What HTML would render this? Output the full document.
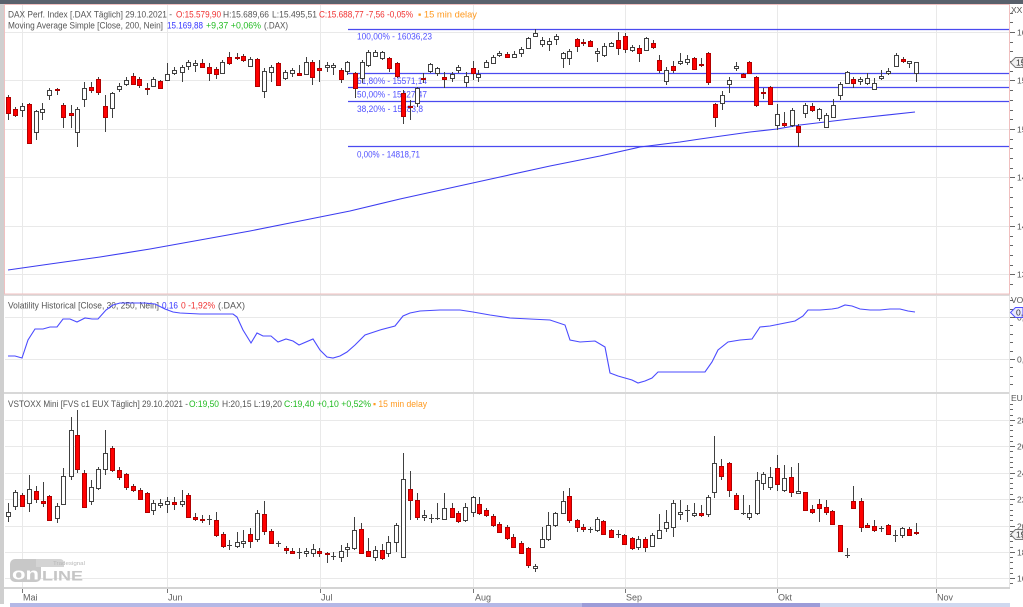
<!DOCTYPE html>
<html><head><meta charset="utf-8"><style>
html,body{margin:0;padding:0;background:#fff;}
body{width:1023px;height:607px;overflow:hidden;}
svg{display:block;font-family:"Liberation Sans","DejaVu Sans",sans-serif;}
</style></head><body>
<svg width="1023" height="607" viewBox="0 0 1023 607" xmlns="http://www.w3.org/2000/svg">
<rect x="0" y="0" width="1023" height="607" fill="#fff"/>
<!-- top bar -->
<rect x="0" y="0" width="1023" height="4" fill="#59616c"/>
<!-- left strip -->
<rect x="0" y="4" width="4" height="600" fill="#cfcfcf"/>
<!-- grid -->
<path d="M5 32.5H1009M5 80.5H1009M5 129.5H1009M5 177.5H1009M5 226.5H1009M5 274.5H1009M5 317.5H1009M5 359.5H1009M5 420.5H1009M5 446.5H1009M5 473.5H1009M5 499.5H1009M5 526.5H1009M5 552.5H1009M5 578.5H1009M22.5 5V588M167.5 5V588M320.5 5V588M473.5 5V588M625.5 5V588M777.5 5V588M936.5 5V588" stroke="#e9e9e9" stroke-width="1" fill="none"/>
<!-- panel separators -->
<rect x="4" y="294" width="1006" height="2" fill="#dcdcdc"/>
<rect x="4" y="392" width="1006" height="2" fill="#d8d8d8"/>
<path d="M1009.5 296V588" stroke="#e4e4e4"/>
<rect x="4.5" y="4.5" width="1005" height="289.5" fill="none" stroke="#f0c0c0" stroke-width="1"/>

<!-- headers -->
<g font-size="9">
<text x="8" y="17.5" fill="#555" textLength="164" lengthAdjust="spacingAndGlyphs">DAX Perf. Index [.DAX Täglich] 29.10.2021 -</text>
<text x="176" y="17.5" fill="#f03030" textLength="45" lengthAdjust="spacingAndGlyphs">O:15.579,90</text>
<text x="223" y="17.5" fill="#555" textLength="46" lengthAdjust="spacingAndGlyphs">H:15.689,66</text>
<text x="272" y="17.5" fill="#555" textLength="45" lengthAdjust="spacingAndGlyphs">L:15.495,51</text>
<text x="319" y="17.5" fill="#f03030" textLength="94" lengthAdjust="spacingAndGlyphs">C:15.688,77 -7,56 -0,05%</text>
<text x="418" y="17.5" fill="#ff9a20" textLength="59" lengthAdjust="spacingAndGlyphs">▪ 15 min delay</text>
<text x="8" y="28.5" fill="#555" textLength="155" lengthAdjust="spacingAndGlyphs">Moving Average Simple [Close, 200, Nein]</text>
<text x="167" y="28.5" fill="#3434ff" textLength="36" lengthAdjust="spacingAndGlyphs">15.169,88</text>
<text x="206" y="28.5" fill="#22bb22" textLength="55" lengthAdjust="spacingAndGlyphs">+9,37 +0,06%</text>
<text x="264" y="28.5" fill="#555" textLength="24" lengthAdjust="spacingAndGlyphs">(.DAX)</text>

<text x="8" y="308.5" fill="#555" textLength="151" lengthAdjust="spacingAndGlyphs">Volatility Historical [Close, 30, 250, Nein]</text>
<text x="162" y="308.5" fill="#3434ff" textLength="16" lengthAdjust="spacingAndGlyphs">0,16</text>
<text x="181" y="308.5" fill="#f03030" textLength="34" lengthAdjust="spacingAndGlyphs">0 -1,92%</text>
<text x="218" y="308.5" fill="#555" textLength="27" lengthAdjust="spacingAndGlyphs">(.DAX)</text>

<text x="8" y="407" fill="#555" textLength="180" lengthAdjust="spacingAndGlyphs">VSTOXX Mini [FVS c1 EUX Täglich] 29.10.2021 -</text>
<text x="189" y="407" fill="#22bb22" textLength="30" lengthAdjust="spacingAndGlyphs">O:19,50</text>
<text x="222" y="407" fill="#555" textLength="60" lengthAdjust="spacingAndGlyphs">H:20,15 L:19,20</text>
<text x="284" y="407" fill="#22bb22" textLength="87" lengthAdjust="spacingAndGlyphs">C:19,40 +0,10 +0,52%</text>
<text x="373" y="407" fill="#ff9a20" textLength="54" lengthAdjust="spacingAndGlyphs">▪ 15 min delay</text>
</g>

<!-- fib lines -->
<path d="M348 29.5H1009M348 73.5H1009M348 87.5H1009M348 101.5H1009M348 146.5H1009" stroke="#4a4af0" stroke-width="1.2" fill="none"/>
<g font-size="9" fill="#5050ff">
<text x="357" y="39.5" textLength="75" lengthAdjust="spacingAndGlyphs">100,00% - 16036,23</text>
<text x="357" y="84" textLength="70" lengthAdjust="spacingAndGlyphs">61,80% - 15571,14</text>
<text x="357" y="97.5" textLength="70" lengthAdjust="spacingAndGlyphs">50,00% - 15427,47</text>
<text x="357" y="112" textLength="66" lengthAdjust="spacingAndGlyphs">38,20% - 15283,8</text>
<text x="357" y="157.5" textLength="63" lengthAdjust="spacingAndGlyphs">0,00% - 14818,71</text>
</g>

<!-- moving average -->
<polyline points="8,270 50,264 100,257 150,249 200,240 250,231 300,221 350,211 400,199 450,188 500,177 550,166 580,160 600,156 640,147 680,142 700,139 750,132 777,129 800,125 850,119 915,112" fill="none" stroke="#3b3bf0" stroke-width="1.1"/>

<!-- DAX wicks -->
<path stroke="#404040" stroke-width="1" fill="none" d="M8.5 95V120M15.5 107V117M22.5 103V117M29.5 103V144M36.5 110V140M42.5 103V120M49.5 88V100M57.5 88V95M63.5 103V128M71.5 105V128M77.5 107V147M84.5 82V107M91.5 82V93M98.5 77V95M105.5 95V132M112.5 92V118M119.5 83V92M126.5 77V86M133.5 73V85M139.5 77V88M147.5 83V95M153.5 77V87M160.5 80V89M167.5 63V80M174.5 67V75M182.5 65V82M188.5 60V70M195.5 60V72M202.5 59V68M209.5 63V81M216.5 67V79M222.5 60V73M229.5 52V65M237.5 53V60M243.5 54V62M250.5 57V67M257.5 58V87M264.5 68V98M271.5 65V82M278.5 62V86M285.5 70V80M292.5 68V77M299.5 65V75M306.5 57V75M312.5 60V85M319.5 60V82M327.5 62V72M333.5 63V75M341.5 68V83M347.5 61V75M355.5 72V98M362.5 60V83M368.5 50V67M375.5 50V57M382.5 51V60M389.5 57V72M397.5 62V78M403.5 90V124M410.5 100V120M417.5 87V107M423.5 73V83M430.5 63V73M437.5 67V76M444.5 72V88M452.5 72V82M458.5 65V73M466.5 72V87M473.5 61V80M478.5 70V82M486.5 60V68M493.5 55V64M499.5 51V57M507.5 52V58M514.5 51V58M521.5 47V57M528.5 37V49M535.5 29V37M542.5 37V47M549.5 38V51M556.5 34V45M563.5 52V68M569.5 49V65M577.5 38V52M583.5 39V46M590.5 40V47M597.5 48V62M604.5 43V57M611.5 42V47M618.5 32V55M625.5 33V53M632.5 45V52M639.5 45V62M646.5 37V51M653.5 40V49M659.5 55V73M666.5 67V85M673.5 61V73M680.5 53V65M687.5 55V65M694.5 57V70M701.5 58V67M708.5 52V85M715.5 103V127M722.5 91V110M729.5 77V93M736.5 62V71M743.5 73V78M749.5 61V74M756.5 76V107M763.5 88V99M770.5 86V105M777.5 104V130M784.5 112V127M792.5 108V127M798.5 124V147M805.5 103V118M812.5 103V112M819.5 108V121M826.5 113V127M833.5 99V118M840.5 82V100M847.5 71V84M853.5 77V88M860.5 77V85M867.5 73V85M874.5 78V90M881.5 70V80M888.5 68V75M896.5 53V67M903.5 57V63M909.5 61V68M916.5 62V82"/>
<!-- DAX red bodies -->
<path fill="#ff0000" stroke="#b00000" stroke-width="1" d="M6.5 97.5h4v16h-4zM13.5 109.5h4v6h-4zM27.5 104.5h4v39h-4zM55.5 89.5h4v1h-4zM61.5 105.5h4v12h-4zM69.5 113.5h4v2h-4zM89.5 87.5h4v3h-4zM96.5 79.5h4v13h-4zM103.5 106.5h4v11h-4zM131.5 76.5h4v8h-4zM137.5 79.5h4v6h-4zM145.5 88.5h4v1h-4zM158.5 81.5h4v7h-4zM200.5 63.5h4v4h-4zM207.5 67.5h4v6h-4zM214.5 69.5h4v5h-4zM227.5 57.5h4v6h-4zM235.5 57.5h4v1h-4zM241.5 56.5h4v4h-4zM255.5 59.5h4v27h-4zM276.5 63.5h4v22h-4zM297.5 73.5h4v2h-4zM310.5 62.5h4v15h-4zM317.5 68.5h4v2h-4zM339.5 70.5h4v9h-4zM353.5 73.5h4v15h-4zM387.5 58.5h4v10h-4zM395.5 63.5h4v13h-4zM401.5 93.5h4v23h-4zM408.5 106.5h4v1h-4zM421.5 78.5h4v1h-4zM442.5 77.5h4v2h-4zM471.5 68.5h4v5h-4zM505.5 54.5h4v3h-4zM575.5 39.5h4v7h-4zM581.5 42.5h4v1h-4zM588.5 41.5h4v5h-4zM616.5 40.5h4v8h-4zM623.5 36.5h4v13h-4zM637.5 48.5h4v5h-4zM651.5 43.5h4v4h-4zM657.5 60.5h4v10h-4zM671.5 66.5h4v4h-4zM692.5 58.5h4v11h-4zM699.5 64.5h4v1h-4zM706.5 53.5h4v29h-4zM713.5 104.5h4v13h-4zM741.5 74.5h4v3h-4zM747.5 62.5h4v11h-4zM754.5 77.5h4v28h-4zM761.5 92.5h4v1h-4zM768.5 87.5h4v17h-4zM782.5 123.5h4v2h-4zM796.5 126.5h4v6h-4zM810.5 106.5h4v4h-4zM851.5 79.5h4v4h-4zM901.5 59.5h4v2h-4z"/>
<!-- DAX white bodies -->
<path fill="#ffffff" stroke="#404040" stroke-width="1" d="M20.5 106.5h4v4h-4zM34.5 111.5h4v21h-4zM40.5 109.5h4v3h-4zM47.5 90.5h4v5h-4zM75.5 109.5h4v23h-4zM82.5 88.5h4v11h-4zM110.5 93.5h4v15h-4zM117.5 86.5h4v3h-4zM124.5 80.5h4v4h-4zM151.5 79.5h4v7h-4zM165.5 74.5h4v6h-4zM172.5 70.5h4v3h-4zM180.5 67.5h4v5h-4zM186.5 62.5h4v4h-4zM193.5 63.5h4v2h-4zM220.5 62.5h4v11h-4zM248.5 59.5h4v7h-4zM262.5 71.5h4v20h-4zM269.5 67.5h4v5h-4zM283.5 72.5h4v6h-4zM290.5 70.5h4v3h-4zM304.5 62.5h4v12h-4zM325.5 65.5h4v2h-4zM331.5 65.5h4v2h-4zM345.5 62.5h4v9h-4zM360.5 62.5h4v16h-4zM366.5 52.5h4v13h-4zM373.5 52.5h4v4h-4zM380.5 52.5h4v6h-4zM415.5 88.5h4v15h-4zM428.5 64.5h4v7h-4zM435.5 68.5h4v5h-4zM450.5 74.5h4v4h-4zM456.5 67.5h4v3h-4zM464.5 76.5h4v6h-4zM476.5 74.5h4v3h-4zM484.5 62.5h4v5h-4zM491.5 57.5h4v6h-4zM497.5 53.5h4v2h-4zM512.5 54.5h4v3h-4zM519.5 49.5h4v4h-4zM526.5 38.5h4v10h-4zM533.5 33.5h4v3h-4zM540.5 40.5h4v4h-4zM547.5 41.5h4v3h-4zM554.5 36.5h4v3h-4zM561.5 53.5h4v5h-4zM567.5 51.5h4v7h-4zM595.5 51.5h4v2h-4zM602.5 46.5h4v9h-4zM609.5 43.5h4v3h-4zM630.5 47.5h4v3h-4zM644.5 38.5h4v12h-4zM664.5 70.5h4v11h-4zM678.5 61.5h4v2h-4zM685.5 59.5h4v3h-4zM720.5 95.5h4v8h-4zM727.5 80.5h4v4h-4zM734.5 66.5h4v2h-4zM775.5 114.5h4v11h-4zM790.5 110.5h4v15h-4zM803.5 105.5h4v8h-4zM817.5 109.5h4v9h-4zM824.5 115.5h4v12h-4zM831.5 105.5h4v12h-4zM838.5 84.5h4v11h-4zM845.5 72.5h4v11h-4zM858.5 79.5h4v2h-4zM865.5 78.5h4v5h-4zM872.5 83.5h4v6h-4zM879.5 76.5h4v2h-4zM886.5 71.5h4v2h-4zM894.5 55.5h4v11h-4zM907.5 61.5h4v2h-4zM914.5 62.5h4v11h-4z"/>

<!-- Volatility line -->
<polyline fill="none" stroke="#4a4aff" stroke-width="1.1" points="8,356 15,356 22,358 28,340 35,329 43,329 50,327 57,327 63,319 70,319 77,322 85,318 92,319 98,319 106,310 113,305 120,303 130,303 145,303 155,304 165,309 173,312 180,313 200,314 220,314 233,314 237,317 243,330 251,343 257,333 263,336 271,336 278,342 286,339 293,341 299,345 313,339 320,350 327,357 333,358 340,356 347,352 355,345 365,335 380,330 395,326 403,316 410,313 420,311 440,310 460,310 473,312 490,315 510,318 530,319 550,320 565,325 570,340 580,342 595,341 605,347 610,373 618,376 625,378 632,380 638,383 645,381 652,378 658,372 670,372 690,372 705,372 712,362 718,350 728,342 740,340 752,339 760,327 770,326 785,323 795,321 803,316 808,310 820,310 832,309 838,308 845,305 852,306 860,309 870,310 880,310 890,309 900,309 908,311 915,312"/>

<!-- VSTOXX wicks -->
<path stroke="#404040" stroke-width="1" fill="none" d="M8.5 503V522M15.5 490V510M22.5 493V507M29.5 475V512M36.5 486V503M43.5 482V507M49.5 495V520M57.5 503V523M63.5 468V505M71.5 417V480M77.5 410V473M84.5 470V508M91.5 480V505M98.5 467V490M105.5 430V475M112.5 446V472M119.5 467V480M126.5 473V490M133.5 484V492M140.5 488V500M147.5 492V513M153.5 500V515M160.5 499V508M167.5 497V513M174.5 497V510M182.5 490V507M188.5 493V518M195.5 513V521M202.5 515V523M209.5 515V525M216.5 512V537M223.5 532V548M229.5 540V550M237.5 532V548M243.5 530V548M250.5 528V548M257.5 510V542M264.5 501V535M271.5 529V543M278.5 541V547M286.5 546V554M292.5 548V554M299.5 548V559M306.5 548V557M313.5 544V557M319.5 548V557M327.5 552V563M333.5 552V560M341.5 545V562M347.5 543V557M354.5 517V550M361.5 523V553M368.5 538V557M375.5 546V561M382.5 544V560M388.5 536V557M396.5 523V552M403.5 453V557M410.5 471V520M417.5 493V520M424.5 510V521M431.5 514V523M437.5 503V520M444.5 493V520M452.5 503V518M458.5 511V523M465.5 503V522M473.5 496V517M479.5 497V515M486.5 508V517M493.5 514V527M499.5 522V533M507.5 525V540M513.5 534V548M521.5 541V553M528.5 547V568M535.5 564V572M542.5 527V548M548.5 512V541M555.5 512V527M563.5 491V514M569.5 488V523M577.5 519V532M583.5 524V532M590.5 527V533M597.5 517V532M603.5 520V535M611.5 529V538M618.5 530V538M624.5 534V545M632.5 537V550M638.5 536V550M645.5 537V552M652.5 533V547M659.5 514V539M666.5 510V532M673.5 500V537M680.5 500V520M687.5 505V522M694.5 503V517M701.5 505V517M708.5 495V517M714.5 436V498M721.5 459V480M729.5 462V497M736.5 493V510M743.5 495V515M749.5 505V520M757.5 472V515M763.5 472V490M770.5 467V490M777.5 455V491M784.5 465V492M791.5 467V497M798.5 463V493M805.5 492V511M812.5 505V514M819.5 499V522M826.5 500V515M832.5 510V525M840.5 525V552M847.5 548V558M853.5 486V508M861.5 498V532M867.5 523V528M874.5 520V532M881.5 526V532M888.5 524V535M895.5 530V542M902.5 527V538M909.5 527V536M916.5 523V535M207 519.5h5M227 545.5h5M276 543.5h5M297 552.5h5M331 556.5h5M429 518.5h5M435 518.5h5M588 529.5h5M616 534.5h5M685 510.5h5M741 513.5h5M845 555.5h5M879 528.5h5M893 535.5h5"/>
<!-- VSTOXX red bodies -->
<path fill="#ff0000" stroke="#b00000" stroke-width="1" d="M20.5 495.5h4v11h-4zM34.5 491.5h4v8h-4zM41.5 501.5h4v2h-4zM47.5 496.5h4v24h-4zM75.5 435.5h4v34h-4zM82.5 473.5h4v34h-4zM110.5 448.5h4v22h-4zM117.5 470.5h4v7h-4zM124.5 474.5h4v13h-4zM131.5 486.5h4v4h-4zM138.5 490.5h4v9h-4zM145.5 493.5h4v19h-4zM172.5 502.5h4v2h-4zM186.5 495.5h4v22h-4zM193.5 517.5h4v2h-4zM200.5 519.5h4v1h-4zM214.5 520.5h4v15h-4zM221.5 534.5h4v12h-4zM248.5 534.5h4v7h-4zM262.5 514.5h4v17h-4zM269.5 531.5h4v12h-4zM284.5 548.5h4v2h-4zM290.5 551.5h4v2h-4zM317.5 551.5h4v2h-4zM325.5 553.5h4v1h-4zM359.5 529.5h4v24h-4zM366.5 551.5h4v5h-4zM380.5 550.5h4v8h-4zM408.5 489.5h4v11h-4zM415.5 500.5h4v17h-4zM450.5 508.5h4v9h-4zM456.5 513.5h4v8h-4zM477.5 504.5h4v9h-4zM484.5 510.5h4v5h-4zM491.5 516.5h4v9h-4zM497.5 524.5h4v8h-4zM505.5 527.5h4v11h-4zM511.5 537.5h4v10h-4zM519.5 543.5h4v10h-4zM526.5 548.5h4v17h-4zM567.5 496.5h4v24h-4zM575.5 520.5h4v7h-4zM581.5 527.5h4v2h-4zM601.5 521.5h4v13h-4zM609.5 530.5h4v7h-4zM622.5 535.5h4v9h-4zM630.5 538.5h4v10h-4zM643.5 539.5h4v8h-4zM699.5 513.5h4v2h-4zM719.5 466.5h4v10h-4zM727.5 463.5h4v27h-4zM734.5 495.5h4v14h-4zM775.5 468.5h4v16h-4zM789.5 477.5h4v15h-4zM803.5 492.5h4v18h-4zM810.5 509.5h4v3h-4zM817.5 504.5h4v4h-4zM824.5 507.5h4v5h-4zM830.5 511.5h4v13h-4zM838.5 525.5h4v26h-4zM851.5 501.5h4v7h-4zM859.5 501.5h4v26h-4zM865.5 525.5h4v2h-4zM872.5 526.5h4v4h-4zM886.5 525.5h4v9h-4zM907.5 529.5h4v6h-4zM914.5 532.5h4v1h-4z"/>
<!-- VSTOXX white bodies -->
<path fill="#ffffff" stroke="#404040" stroke-width="1" d="M6.5 512.5h4v4h-4zM13.5 492.5h4v14h-4zM27.5 489.5h4v14h-4zM55.5 506.5h4v12h-4zM61.5 476.5h4v28h-4zM69.5 430.5h4v46h-4zM89.5 487.5h4v14h-4zM96.5 469.5h4v19h-4zM103.5 453.5h4v16h-4zM151.5 503.5h4v7h-4zM158.5 503.5h4v2h-4zM165.5 501.5h4v3h-4zM180.5 501.5h4v3h-4zM235.5 542.5h4v4h-4zM241.5 541.5h4v2h-4zM255.5 513.5h4v26h-4zM304.5 551.5h4v2h-4zM311.5 549.5h4v4h-4zM339.5 551.5h4v6h-4zM345.5 547.5h4v2h-4zM352.5 530.5h4v18h-4zM373.5 550.5h4v7h-4zM386.5 542.5h4v11h-4zM394.5 525.5h4v17h-4zM401.5 479.5h4v78h-4zM422.5 515.5h4v2h-4zM442.5 508.5h4v11h-4zM463.5 507.5h4v13h-4zM471.5 497.5h4v15h-4zM533.5 566.5h4v2h-4zM540.5 539.5h4v8h-4zM546.5 525.5h4v14h-4zM553.5 513.5h4v12h-4zM561.5 501.5h4v12h-4zM595.5 519.5h4v11h-4zM636.5 539.5h4v8h-4zM650.5 535.5h4v11h-4zM657.5 530.5h4v8h-4zM664.5 522.5h4v6h-4zM671.5 503.5h4v24h-4zM678.5 512.5h4v2h-4zM692.5 513.5h4v2h-4zM706.5 497.5h4v17h-4zM712.5 463.5h4v29h-4zM747.5 513.5h4v4h-4zM755.5 480.5h4v33h-4zM761.5 474.5h4v9h-4zM768.5 477.5h4v10h-4zM782.5 478.5h4v12h-4zM796.5 491.5h4v2h-4zM900.5 528.5h4v7h-4z"/>

<!-- logo watermark -->
<g>
<rect x="10" y="559" width="31" height="23" rx="5" fill="#c8c8c8"/>
<path d="M36 559h24a4 4 0 0 1 4 4v4H36z" fill="#d4d4d4"/>
<text x="12" y="579.5" font-size="17" font-weight="bold" fill="#ffffff" textLength="27" lengthAdjust="spacingAndGlyphs">on</text>
<text x="42" y="580.5" font-size="14" font-weight="bold" fill="#c6c6c6" textLength="41" lengthAdjust="spacingAndGlyphs">LINE</text>
<text x="53" y="565" font-size="5" fill="#b8b8b8" textLength="32" lengthAdjust="spacingAndGlyphs">Tradesignal</text>
</g>

<!-- x axis -->
<rect x="4" y="587" width="1006" height="2" fill="#d4d4d4"/>
<path d="M22.5 589V593M167.5 589V593M320.5 589V593M473.5 589V593M625.5 589V593M777.5 589V593M936.5 589V593" stroke="#777"/>
<g font-size="9" fill="#606060">
<text x="23" y="600.5">Mai</text>
<text x="168" y="600.5">Jun</text>
<text x="321" y="600.5">Jul</text>
<text x="475" y="600.5">Aug</text>
<text x="626" y="600.5">Sep</text>
<text x="778" y="600.5">Okt</text>
<text x="937" y="600.5">Nov</text>
</g>
<!-- bottom scroll strip -->
<rect x="10" y="603" width="572" height="4" fill="#b4b8e6"/>
<rect x="582" y="603" width="238" height="4" fill="#9c9cd8"/>
<rect x="820" y="603" width="190" height="4" fill="#cfd8ef"/>

<!-- right axis -->
<path stroke="#666" stroke-width="1" fill="none" d="M1010 13.5h3M1010 22.5h3M1010 32.5h5M1010 42.5h3M1010 51.5h3M1010 61.5h3M1010 71.5h3M1010 80.5h5M1010 90.5h3M1010 100.5h3M1010 110.5h3M1010 119.5h3M1010 129.5h5M1010 139.5h3M1010 148.5h3M1010 158.5h3M1010 168.5h3M1010 177.5h5M1010 187.5h3M1010 197.5h3M1010 207.5h3M1010 216.5h3M1010 226.5h5M1010 236.5h3M1010 245.5h3M1010 255.5h3M1010 265.5h3M1010 274.5h5M1010 284.5h3M1010 300.5h3M1010 309.5h3M1010 317.5h5M1010 325.5h3M1010 334.5h3M1010 342.5h3M1010 351.5h3M1010 359.5h5M1010 367.5h3M1010 376.5h3M1010 384.5h3M1010 404.5h3M1010 409.5h3M1010 415.5h3M1010 420.5h5M1010 425.5h3M1010 430.5h3M1010 436.5h3M1010 441.5h3M1010 446.5h5M1010 451.5h3M1010 457.5h3M1010 462.5h3M1010 467.5h3M1010 473.5h5M1010 478.5h3M1010 483.5h3M1010 488.5h3M1010 494.5h3M1010 499.5h5M1010 504.5h3M1010 510.5h3M1010 515.5h3M1010 520.5h3M1010 526.5h5M1010 531.5h3M1010 536.5h3M1010 541.5h3M1010 547.5h3M1010 552.5h5M1010 557.5h3M1010 562.5h3M1010 568.5h3M1010 573.5h3M1010 578.5h5M1010 583.5h3"/>
<g font-size="8.5" fill="#555">
<text x="1011" y="13">XXR</text>
<text x="1017" y="35.5">16.000</text>
<text x="1017" y="83.5">15.500</text>
<text x="1017" y="132.5">15.000</text>
<text x="1017" y="180.5">14.500</text>
<text x="1017" y="229.5">14.000</text>
<text x="1017" y="277.5">13.500</text>
<text x="1011" y="303">VOL</text>
<text x="1017" y="320.5">0,15</text>
<text x="1017" y="362.5">0,10</text>
<text x="1011" y="401">EUR</text>
<text x="1017" y="423.5">28</text>
<text x="1017" y="449.5">26</text>
<text x="1017" y="476.5">24</text>
<text x="1017" y="502.5">22</text>
<text x="1017" y="529.5">20</text>
<text x="1017" y="555.5">18</text>
<text x="1017" y="581.5">16</text>
</g>
<!-- value markers -->
<polygon points="1010.5,62.5 1015.5,57.5 1023,57.5 1023,67.5 1015.5,67.5" fill="#f2f2f2" stroke="#777"/>
<text x="1016" y="65.5" font-size="8.5" fill="#333">15.688,77</text>
<polygon points="1010.5,312.5 1015.5,307.5 1023,307.5 1023,317.5 1015.5,317.5" fill="#eaeaff" stroke="#5050ff"/>
<text x="1016" y="315.5" font-size="8.5" fill="#333">0,16</text>
<polygon points="1010.5,534.5 1015.5,529.5 1023,529.5 1023,539.5 1015.5,539.5" fill="#f2f2f2" stroke="#777"/>
<text x="1016" y="537.5" font-size="8.5" fill="#333">19,40</text>
</svg>
</body></html>
